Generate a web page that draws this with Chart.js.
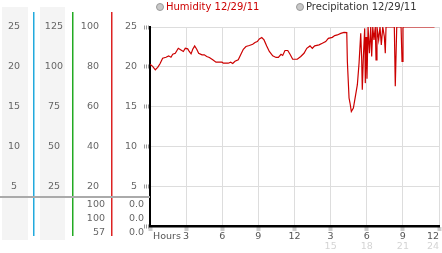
<!DOCTYPE html>
<html>
<head>
<meta charset="utf-8">
<script src="https://cdn.jsdelivr.net/npm/chart.js@4.4.1/dist/chart.umd.min.js"></script>
<style>
  html, body { margin: 0; padding: 0; background: #fff; }
  #wrap { width: 442px; height: 253px; }
</style>
</head>
<body>
<div id="wrap"><canvas id="weather"></canvas></div>
<script>
// humidity on 12/29/11, hour of day -> percent
const hours = [0, 0.22, 0.44, 0.64, 0.83, 1.05, 1.33, 1.55, 1.74, 1.89, 2.10, 2.35, 2.57, 2.77, 2.93,
  3.13, 3.26, 3.41, 3.55, 3.71, 3.88, 4.04, 4.32, 4.51, 4.71, 4.93, 5.21, 5.48, 5.98, 6.09, 6.50,
  6.70, 6.87, 7.06, 7.33, 7.53, 7.75, 7.97, 8.25, 8.53, 8.72, 8.91, 9.08, 9.28, 9.47, 9.69, 9.91,
  10.19, 10.47, 10.66, 10.88, 11.02, 11.21, 11.44, 11.63, 11.85, 12.23, 12.52, 12.79, 13.02, 13.29,
  13.48, 13.68, 14.04, 14.31, 14.59, 14.81, 15.14, 15.34, 15.56, 15.84, 16.11, 16.34, 16.39, 16.53,
  16.61, 16.72, 16.89, 17.08, 17.22, 17.36, 17.50, 17.58, 17.63, 17.72, 17.83, 17.88, 17.94, 18.02,
  18.11, 18.22, 18.33, 18.41, 18.50, 18.60, 18.71, 18.77, 18.85, 18.99, 19.10, 19.21, 19.33, 19.46,
  19.54, 19.60, 20.29, 20.37, 20.49, 20.85, 20.93, 21.01, 23.63];
const humidity = [81.3, 80.2, 78.5, 79.7, 81.5, 84.3, 84.8, 85.5, 84.8, 86.3, 86.8, 89.3, 88.5, 87.7, 89.3,
  89.0, 87.7, 86.5, 88.8, 90.5, 88.8, 86.8, 86.0, 86.0, 85.2, 84.7, 83.5, 82.3, 82.3, 81.8, 81.8,
  82.3, 81.7, 82.8, 83.5, 86.0, 88.8, 90.2, 90.7, 91.3, 92.2, 92.7, 94.0, 94.7, 93.5, 90.5, 87.7,
  85.5, 84.7, 84.7, 86.3, 85.7, 88.2, 88.2, 86.3, 83.8, 83.8, 85.2, 86.8, 89.3, 90.5,
  89.3, 90.5, 91.0, 91.8, 92.7, 94.3, 94.8, 95.7, 96.0, 96.8, 97.3, 97.2, 82.7, 64.3,
  61.8, 57.5, 59.3, 66.0, 71.0, 81.8, 96.8, 83.5, 68.5, 85.2, 99.3, 71.8, 95, 74,
  100, 86.8, 100, 85.2, 100, 93.5, 100, 83.5, 100, 93.5, 100, 91.0, 100, 95.2,
  86.8, 100, 100, 70.2, 100, 100, 82.7, 100, 100];
const precipitation = [];   // no rain recorded

const seriesLabels = ['Humidity 12/29/11', 'Precipitation 12/29/11'];
const humidityStats = ['100', '100', '57'];
const precipStats = ['0.0', '0.0', '0.0'];

const FONT = 'DejaVu Sans';
Chart.defaults.font.family = FONT;
Chart.defaults.font.size = 9.5;
Chart.defaults.color = '#666';

function hourLabel(v) {
  if (v === 0) return '';
  return v % 12 === 0 ? '12' : String(v % 12);
}

// side columns, stat table, legend and "Hours" caption
const decor = {
  id: 'decor',
  beforeDraw(chart) {
    const c = chart.ctx;
    c.save();
    c.fillStyle = '#f4f4f4';
    c.fillRect(2, 7, 26, 233);
    c.fillRect(40, 7, 25, 233);
    c.restore();
  },
  afterDraw(chart) {
    const c = chart.ctx, s = chart.scales;
    c.save();
    const edges = [[s.yA.right, '#22aadd'], [s.yB.right, '#22aa22'], [s.yHum.right, '#dd2222']];
    edges.forEach(([x, col]) => {
      c.fillStyle = col;
      c.fillRect(Math.round(x), 12, 1.5, 224);
    });
    c.fillStyle = '#aaa';
    c.fillRect(0, 196, s.y.right, 2);

    c.font = '9.5px "' + FONT + '"';
    c.textBaseline = 'middle';
    c.textAlign = 'right';
    c.fillStyle = '#666';
    humidityStats.forEach((t, i) => c.fillText(t, s.yHum.right - 6, 205 + i * 14));
    precipStats.forEach((t, i) => c.fillText(t, s.y.right - 6, 205 + i * 14));
    c.textAlign = 'left';
    c.fillStyle = '#555';
    c.fillText('Hours', chart.chartArea.left + 3, 237);
    // legend
    c.font = '10px "' + FONT + '"';
    const starts = [chart.chartArea.left + 10, chart.chartArea.left + 150];
    chart.data.datasets.forEach((ds, i) => {
      const x = starts[i];
      c.beginPath();
      c.arc(x, 7, 3.5, 0, Math.PI * 2);
      c.fillStyle = '#c8c8c8';
      c.fill();
      c.strokeStyle = '#999';
      c.stroke();
      c.fillStyle = ds.legendColor;
      c.fillText(ds.label, x + 6, 7);
    });
    c.restore();
  }
};

new Chart(document.getElementById('weather'), {
  type: 'line',
  data: {
    datasets: [{
      label: seriesLabels[0],
      data: hours.map((h, i) => ({ x: h, y: humidity[i] })),
      yAxisID: 'yHum',
      borderColor: '#cc0000',
      legendColor: '#cc0000',
      borderWidth: 1.2,
      pointRadius: 0,
      tension: 0
    }, {
      label: seriesLabels[1],
      data: precipitation,
      yAxisID: 'y',
      borderColor: '#333',
      legendColor: '#333',
      borderWidth: 1.2,
      pointRadius: 0
    }]
  },
  options: {
    responsive: true,
    maintainAspectRatio: false,
    animation: false,
    layout: { padding: { top: 27, right: 3, bottom: 2, left: 0 } },
    plugins: { legend: { display: false }, tooltip: { enabled: false } },
    scales: {
      x: {
        type: 'linear', position: 'bottom', weight: 1,
        min: 0, max: 24,
        afterFit: s => { s.height = 15; },
        ticks: { stepSize: 3, autoSkip: false, maxRotation: 0, align: 'inner', padding: 0, color: '#555', callback: hourLabel },
        grid: { color: '#ddd', tickLength: 5, tickColor: '#999', tickWidth: 4, tickBorderDash: [1, 1] },
        border: { color: '#000', width: 2.5 }
      },
      x2: {
        type: 'linear', position: 'bottom', weight: 2,
        min: 0, max: 24,
        afterFit: s => { s.height = 10; },
        ticks: { stepSize: 3, autoSkip: false, maxRotation: 0, align: 'inner', padding: 0, color: '#d4d4d4',
          callback: v => v > 12 ? String(v) : '' },
        grid: { display: false, drawTicks: false },
        border: { display: false }
      },
      yA: {
        type: 'linear', position: 'left', weight: 4,
        min: 0, max: 25,
        afterFit: s => { s.width = 33; },
        ticks: { stepSize: 5, crossAlign: 'center', padding: 13, callback: v => v === 0 ? '' : v },
        grid: { display: false, drawTicks: false },
        border: { display: false }
      },
      yB: {
        type: 'linear', position: 'left', weight: 3,
        min: 0, max: 125,
        afterFit: s => { s.width = 39; },
        ticks: { stepSize: 25, crossAlign: 'center', padding: 9, callback: v => v === 0 ? '' : v },
        grid: { display: false, drawTicks: false },
        border: { display: false }
      },
      yHum: {
        type: 'linear', position: 'left', weight: 2,
        min: 0, max: 100,
        afterFit: s => { s.width = 39; },
        ticks: { stepSize: 20, crossAlign: 'near', padding: 12, callback: v => v === 0 ? '' : v },
        grid: { display: false, drawTicks: false },
        border: { display: false }
      },
      y: {
        type: 'linear', position: 'left', weight: 1,
        min: 0, max: 25,
        afterFit: s => { s.width = 39; },
        ticks: { stepSize: 5, crossAlign: 'near', padding: 7, callback: v => v === 0 ? '' : v },
        grid: { color: '#ddd', tickLength: 6, tickColor: '#999', tickWidth: 4, tickBorderDash: [1, 1] },
        border: { color: '#000', width: 2 }
      }
    }
  },
  plugins: [decor]
});
</script>
</body>
</html>
